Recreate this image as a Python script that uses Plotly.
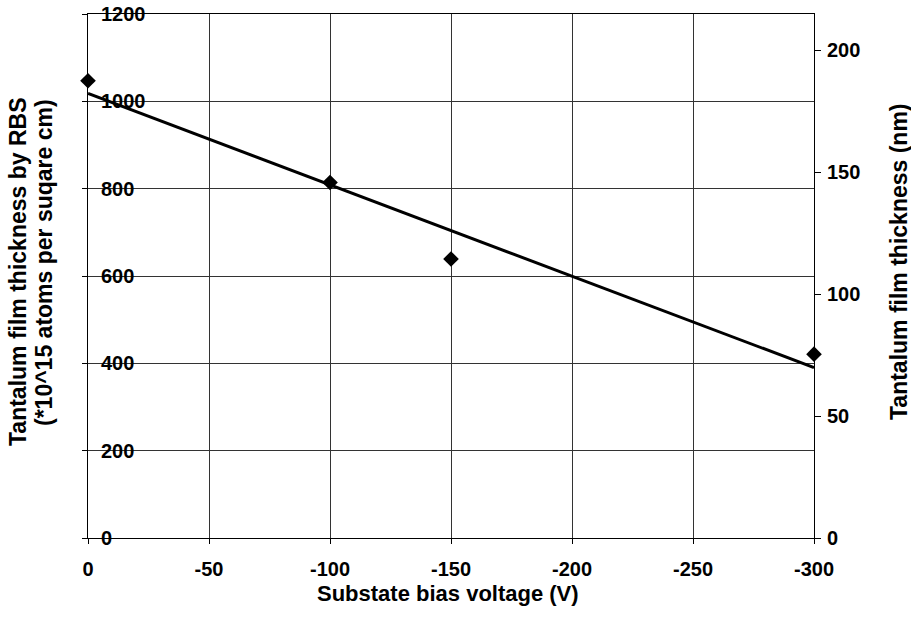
import numpy as np
import plotly.graph_objects as go

# Data
bias_voltage = [0, -100, -150, -300]            # V
thickness_rbs = [1047, 814, 639, 421]           # *10^15 atoms / cm^2

x_ticks = [0, -50, -100, -150, -200, -250, -300]
y_ticks = [0, 200, 400, 600, 800, 1000, 1200]
y2_ticks = [0, 50, 100, 150, 200]
nm_per_unit = 0.179  # right-axis scale (nm per 1e15 atoms/cm^2)

# Linear trend line (least squares fit of the data)
slope, intercept = np.polyfit(bias_voltage, thickness_rbs, 1)
trend_x = [0, -300]
trend_y = [slope * v + intercept for v in trend_x]

FONT = "Liberation Sans"
TICKFONT = dict(family=FONT, size=20, weight="bold", color="black")

fig = go.Figure()
fig.add_trace(go.Scatter(x=trend_x, y=trend_y, mode="lines",
                         line=dict(color="black", width=3), showlegend=False))
fig.add_trace(go.Scatter(x=bias_voltage, y=thickness_rbs, mode="markers",
                         marker=dict(symbol="diamond", size=12, color="black"),
                         cliponaxis=False, showlegend=False))
# invisible trace to activate right axis
fig.add_trace(go.Scatter(x=[0], y=[0], yaxis="y2", mode="markers",
                         marker=dict(opacity=0), showlegend=False, hoverinfo="skip"))

fig.update_layout(
    width=911, height=623,
    margin=dict(l=88, r=97, t=14, b=85),
    plot_bgcolor="white", paper_bgcolor="white",
    font=dict(family=FONT, size=18, color="black"),
    xaxis=dict(range=[0, -300], tickvals=x_ticks, ticktext=[str(v) for v in x_ticks],
               showgrid=True, gridcolor="#333", gridwidth=1,
               showline=True, linecolor="black", linewidth=1, mirror=True,
               ticks="outside", ticklen=5, tickcolor="black",
               ticklabelstandoff=8, zeroline=False, automargin=False,
               tickfont=TICKFONT),
    yaxis=dict(range=[0, 1200], tickvals=y_ticks,
               showgrid=True, gridcolor="#333", gridwidth=1,
               showline=True, linecolor="black", linewidth=1,
               ticks="outside", ticklen=5, tickcolor="black",
               ticklabelposition="inside", ticklabeloverflow="allow",
               ticklabelstandoff=14, zeroline=False, automargin=False,
               tickfont=TICKFONT),
    yaxis2=dict(overlaying="y", side="right", range=[0, 1200 * nm_per_unit],
                tickvals=y2_ticks, showgrid=False, zeroline=False,
                showline=True, linecolor="black", linewidth=1,
                ticks="outside", ticklen=6, tickcolor="black",
                ticklabelstandoff=2, automargin=False,
                tickfont=TICKFONT),
    annotations=[
        dict(text="<b>Substate bias voltage (V)</b>",
             xref="paper", yref="paper", x=(448 - 88) / 726, y=(538 - 593) / 524,
             xanchor="center", yanchor="middle", showarrow=False,
             font=dict(family=FONT, size=22)),
        dict(text="<b>Tantalum film thickness by RBS</b>",
             xref="paper", yref="paper", x=(18 - 88) / 726, y=(538 - 272) / 524,
             xanchor="center", yanchor="middle",
             textangle=-90, showarrow=False, font=dict(family=FONT, size=23)),
        dict(text="<b>(*10^15 atoms per suqare cm)</b>",
             xref="paper", yref="paper", x=(44 - 88) / 726, y=(538 - 263) / 524,
             xanchor="center", yanchor="middle",
             textangle=-90, showarrow=False, font=dict(family=FONT, size=23)),
        dict(text="<b>Tantalum film thickness (nm)</b>",
             xref="paper", yref="paper", x=(899 - 88) / 726, y=(538 - 262) / 524,
             xanchor="center", yanchor="middle",
             textangle=-90, showarrow=False, font=dict(family=FONT, size=23)),
    ],
)

fig.write_html("out.html")
